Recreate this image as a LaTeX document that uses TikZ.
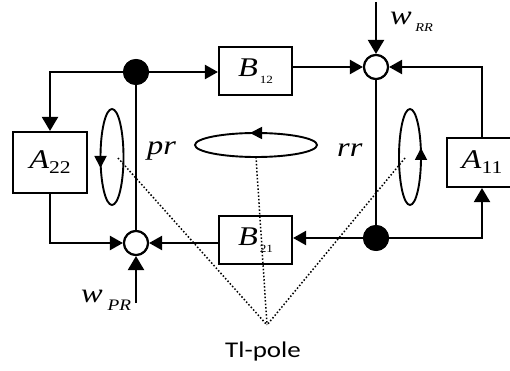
\documentclass[tikz,border=0pt]{standalone}
\usepackage{fontspec}
\usepackage{graphicx}
\setmainfont{Liberation Serif}
\newfontfamily\calib{Carlito}
\usetikzlibrary{arrows.meta}
\tikzset{
  x=1pt,y=-1pt,
  wire/.style={line width=2.1pt},
  arr/.style={wire,-{Triangle[length=13pt,width=14pt]}},
  varr/.style={wire,-{Triangle[length=14pt,width=16pt]}},
  sarr/.style={line width=1.8pt,-{Triangle[length=12pt,width=12pt]}},
  blockbox/.style={draw,line width=2.1pt,rectangle,inner sep=0pt,minimum width=73pt,minimum height=48pt},
  junct/.style={circle,fill=black,inner sep=0pt,minimum size=26pt},
  sumnode/.style={circle,draw,fill=white,line width=2.1pt,inner sep=0pt,minimum size=24pt},
  loopel/.style={line width=1.9pt},
  pole/.style={line width=1.5pt,dotted},
  lbl/.style={inner sep=0pt,anchor=base west}
}
\newcommand\hs[1]{\scalebox{1.2}[1]{#1}}
\newcommand\bigit[1]{{\fontsize{27}{27}\selectfont\itshape #1}}
\newcommand\tinysub[1]{\raisebox{-7pt}{\fontsize{11}{11}\selectfont #1}}
\newcommand\midsub[1]{\raisebox{-5pt}{\fontsize{18}{18}\selectfont #1}}
\begin{document}
\begin{tikzpicture}
\clip (0,0) rectangle (510,371);
\useasboundingbox (0,0) rectangle (510,371);
% nodes
\node[junct] (dTL) at (136,72) {};
\node[junct] (dBR) at (376,238) {};
\node[sumnode] (sR) at (376,67) {};
\node[sumnode] (sL) at (136,243) {};
\node[blockbox] (B12) at (255.5,71) {\hs{\bigit{B}\,\tinysub{12}}\hspace{12pt}};
\node[blockbox] (B21) at (255.5,240) {\hs{\bigit{B}\,\tinysub{21}}\hspace{12pt}};
\node[blockbox,minimum width=74pt,minimum height=61pt] (A22) at (50,162.5) {\hs{\bigit{A}\midsub{22}}};
\node[blockbox,minimum width=70pt,minimum height=49pt] (A11) at (482,162.5) {\hs{\bigit{A}\midsub{11}}\hspace{8pt}};
\coordinate (wr) at (376,2);
\coordinate (wp) at (136,303);
% connectors
\draw[arr] (dTL) -- (B12.west |- dTL);
\draw[varr] (dTL) -| (A22.north);
\draw[wire] (dTL) -- (sL);
\draw[arr] (B12.east |- sR) -- (sR);
\draw[varr] (wr) -- (sR);
\draw[arr] (A11.north) |- (sR);
\draw[wire] (sR) -- (dBR);
\draw[arr] (dBR) -- (B21.east |- dBR);
\draw[varr] (dBR) -| (A11.south);
\draw[arr] (B21.west |- sL) -- (sL);
\draw[arr] (A22.south) |- (sL);
\draw[varr] (wp) -- (sL);
% redraw nodes on top
\node[junct] at (dTL) {};
\node[junct] at (dBR) {};
\node[sumnode] at (sR) {};
\node[sumnode] at (sL) {};
% loops
\draw[loopel] (112,157) ellipse [x radius=11.5, y radius=48];
\draw[loopel] (256,145) ellipse [x radius=61, y radius=12];
\draw[loopel] (410,157) ellipse [x radius=11, y radius=48];
\draw[sarr] (100.5,150) -- (100.5,168);
\draw[sarr] (266,133) -- (250,133);
\draw[sarr] (421,166) -- (421,148);
% pole lines
\coordinate (tp) at (267,325);
\draw[pole] (118,158) -- (tp);
\draw[pole] (256,157) -- (tp);
\draw[pole] (405,158) -- (tp);
\node[inner sep=0pt,anchor=base] (tl) at (263,357) {\hs{\calib\fontsize{22.5}{22.5}\selectfont Tl-pole}};
% labels
\node[lbl] (pr) at (147,155) {\hs{\fontsize{27}{27}\selectfont\itshape pr}};
\node[lbl] (rr) at (337,157) {\hs{\fontsize{27}{27}\selectfont\itshape rr}};
\node[lbl] (wrr) at (390,25) {\hs{{\fontsize{27}{27}\selectfont\itshape w}\raisebox{-7pt}{\fontsize{12}{12}\selectfont\itshape\ RR}}};
\node[lbl] (wpr) at (81,302) {\hs{{\fontsize{27}{27}\selectfont\itshape w}\raisebox{-8pt}{\fontsize{16}{16}\selectfont\itshape\ PR}}};
\end{tikzpicture}
\end{document}
